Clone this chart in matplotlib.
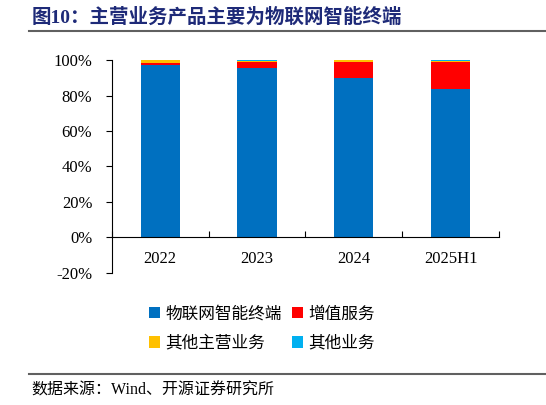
import matplotlib
matplotlib.use("Agg")
import matplotlib.pyplot as plt
import numpy as np
from matplotlib.patches import Patch

plt.rcParams['font.family'] = ['Liberation Serif', 'Noto Sans CJK SC', 'DejaVu Sans']

categories = ['2022', '2023', '2024', '2025H1']
series_names = ['物联网智能终端', '增值服务', '其他主营业务', '其他业务']
iot_terminal = [97.3, 95.8, 90.0, 83.8]
value_added = [1.0, 3.2, 9.0, 15.3]
other_main = [1.6, 0.8, 0.9, 0.4]
other_biz = [0.1, 0.2, 0.1, 0.5]
colors = ['#0070C0', '#FF0000', '#FFC000', '#00B0F0']
yticks = [-20, 0, 20, 40, 60, 80, 100]

fig = plt.figure(figsize=(5.46, 4.05), dpi=100)
ax = fig.add_axes([0.2046, 0.3267, 0.7094, 0.5244])

x = np.arange(len(categories))
bottom = np.zeros(len(categories))
for vals, c in zip([iot_terminal, value_added, other_main, other_biz], colors):
    ax.bar(x, vals, width=0.405, bottom=bottom, color=c, edgecolor='none', zorder=2)
    bottom += np.array(vals)

ax.set_xlim(-0.5, len(categories) - 0.5)
ax.set_ylim(-20, 100)
ax.set_yticks(yticks)
ax.set_yticklabels([f'{v}%' for v in yticks], fontsize=12)

# category boundaries as tick marks, labels at bar centres
ax.set_xticks(np.arange(-0.5, len(categories)), labels=[''] * (len(categories) + 1))
ax.set_xticks(x, labels=categories, minor=True)
ax.tick_params(axis='x', which='major', direction='in', length=4, width=0.8)
ax.tick_params(axis='x', which='minor', length=0, pad=10, labelsize=12)
ax.tick_params(axis='y', direction='out', length=4, width=0.8, pad=10)

ax.spines['top'].set_visible(False)
ax.spines['right'].set_visible(False)
ax.spines['bottom'].set_position(('data', 0))
ax.spines['bottom'].set_linewidth(0.8)
ax.spines['left'].set_linewidth(0.8)

# legend fills column-wise, so reorder to get rows as in the report
order = [0, 2, 1, 3]
handles = [Patch(facecolor=colors[i], edgecolor='none') for i in order]
labels = [series_names[i] for i in order]
fig.legend(handles, labels, ncol=2, frameon=False,
           loc='upper left', bbox_to_anchor=(0.245, 0.283),
           prop={'family': 'Noto Sans CJK SC', 'size': 12},
           handlelength=0.7, handleheight=0.7, handletextpad=0.3,
           columnspacing=0.6, labelspacing=0.75)

# title and footer
fig.text(0.057, 0.958, '图10：主营业务产品主要为物联网智能终端', fontsize=14,
         fontweight='bold', color='#1E2A78', va='center',
         family=['Liberation Serif', 'Noto Sans CJK SC'])
fig.add_artist(plt.Line2D([0.053, 1.0], [0.923, 0.923], color='#606060', lw=1.5))
fig.add_artist(plt.Line2D([0.053, 1.0], [0.077, 0.077], color='#606060', lw=1.5))
fig.text(0.057, 0.035, '数据来源：Wind、开源证券研究所', fontsize=11.5, va='center',
         family=['Liberation Serif', 'Noto Sans CJK SC'])

fig.savefig('out.png', dpi=100)
